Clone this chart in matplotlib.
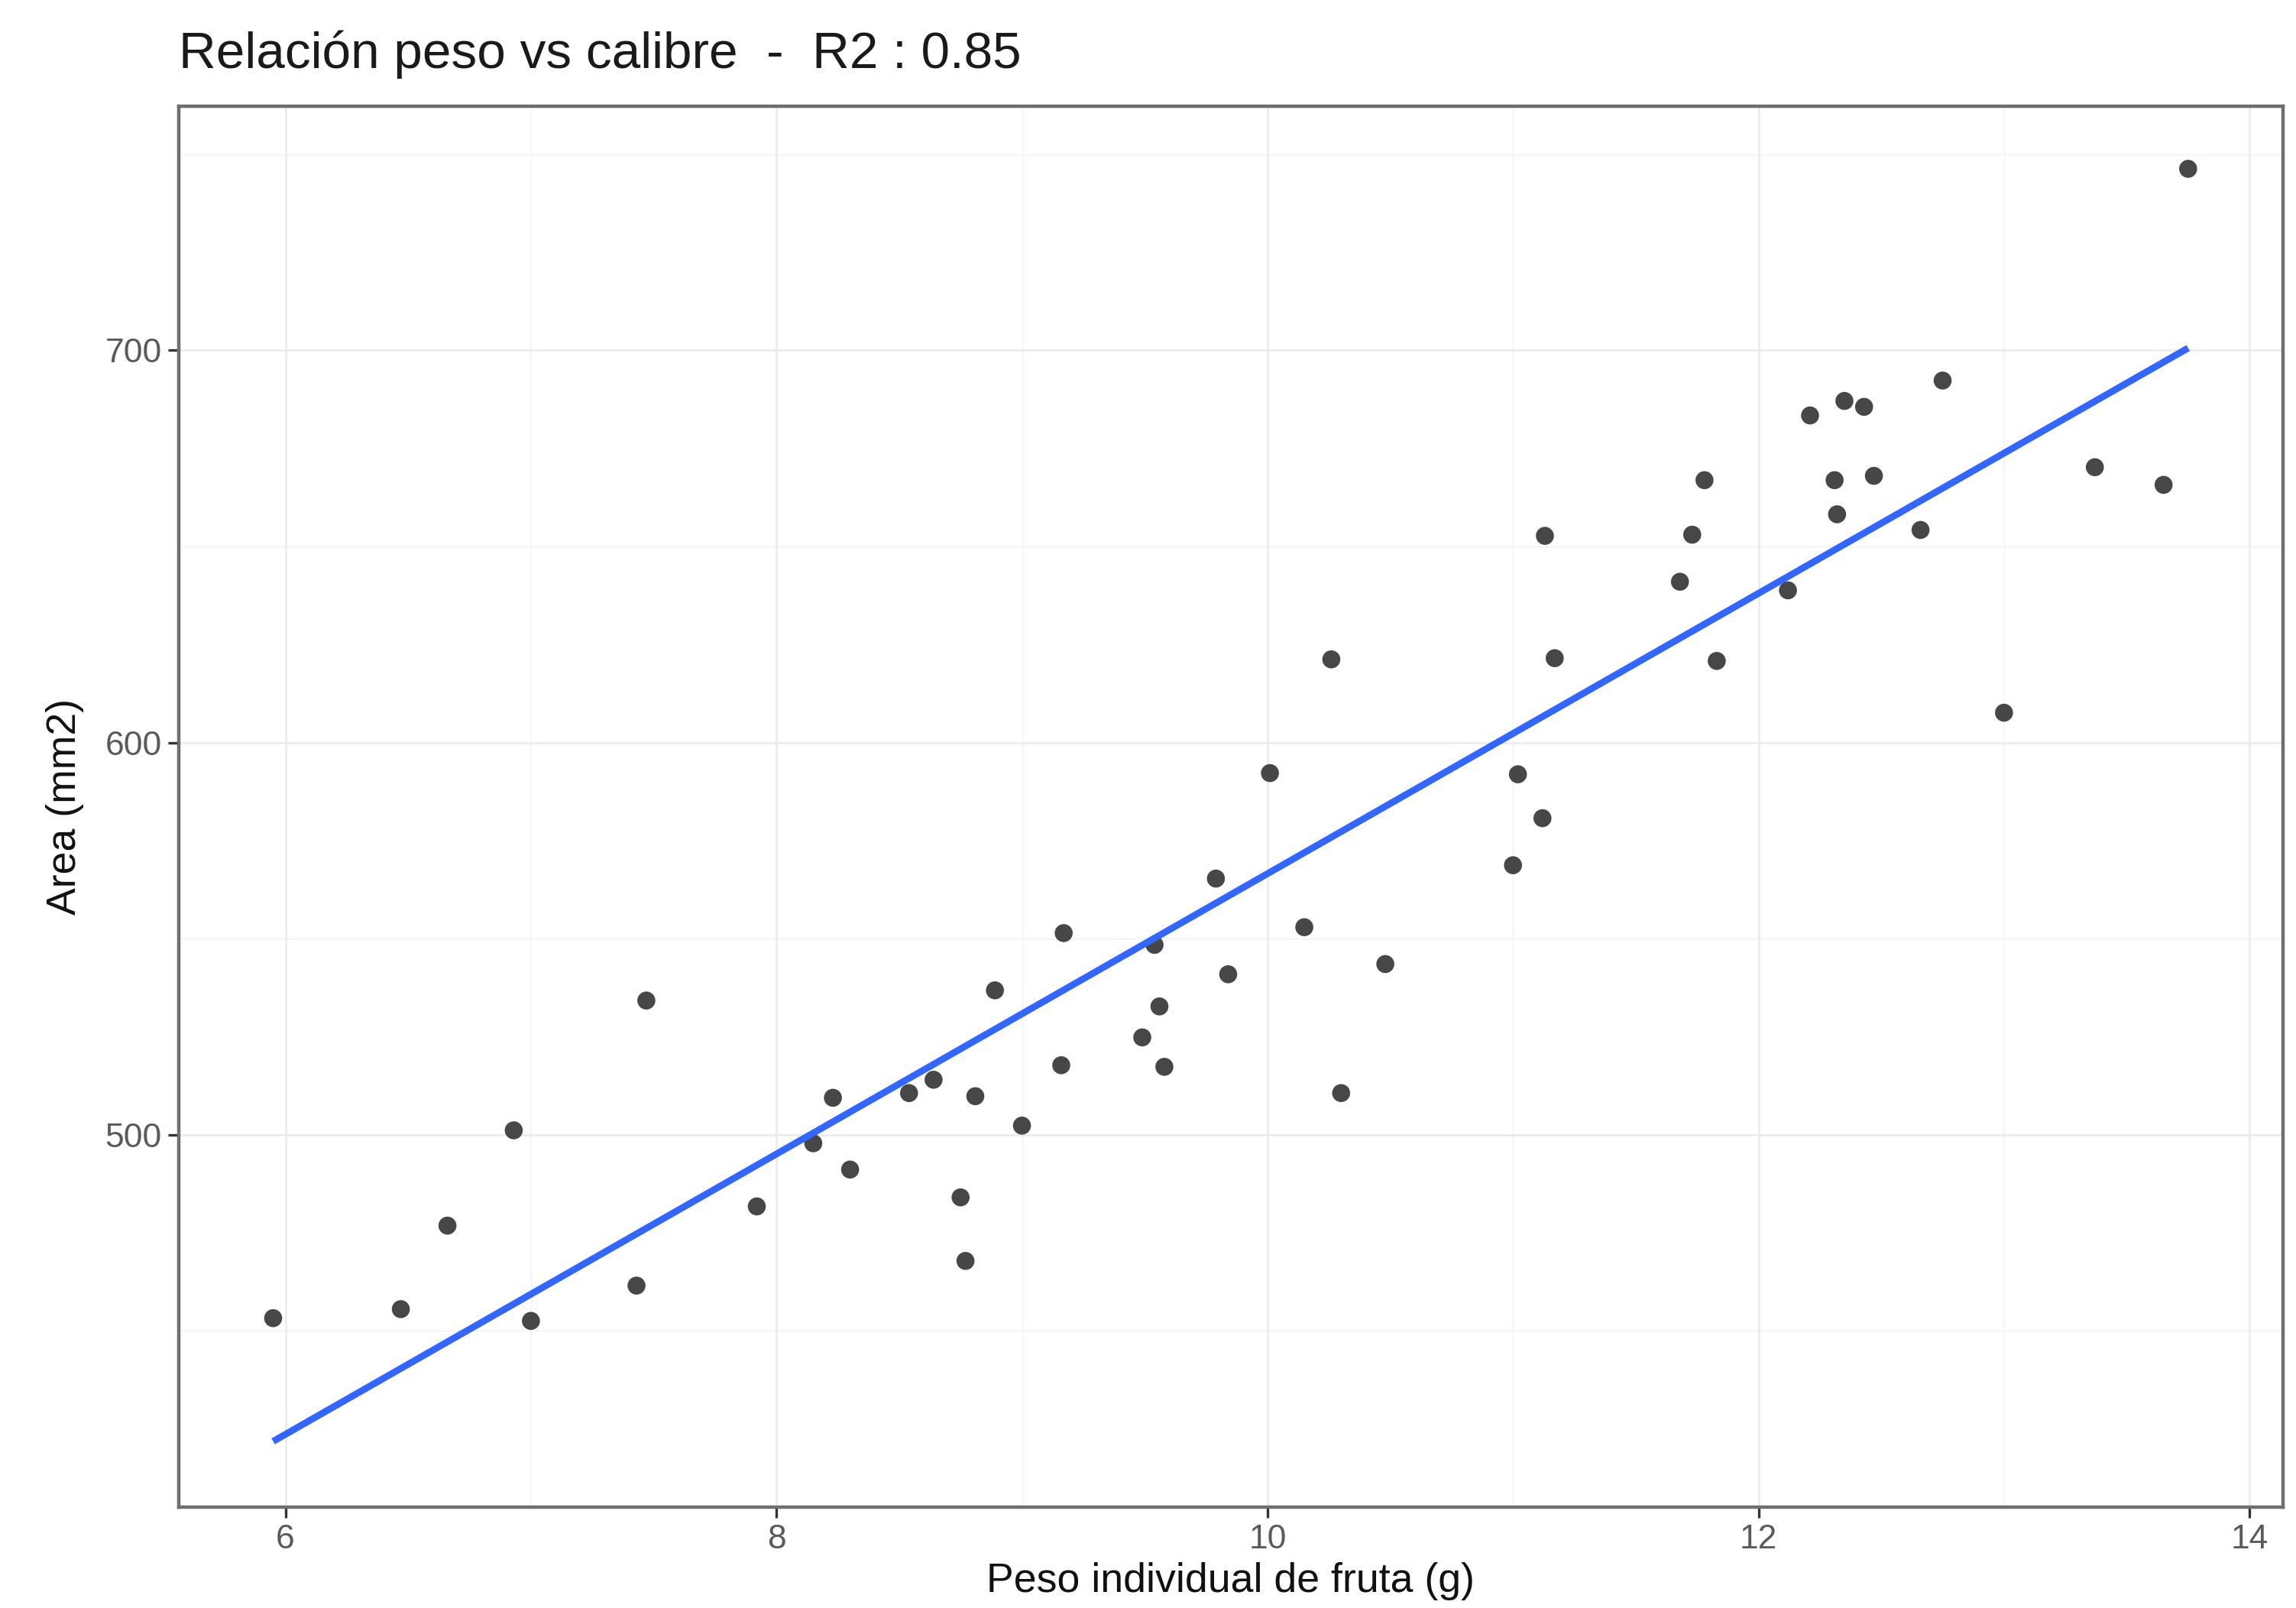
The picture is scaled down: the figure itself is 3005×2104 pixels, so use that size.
import numpy as np
import matplotlib
matplotlib.use('Agg')
import matplotlib.pyplot as plt
from matplotlib.ticker import MultipleLocator

# peso individual de fruta (g) vs area (mm2)
peso = [5.95, 6.47, 6.66, 6.93, 7.00, 7.43, 7.47, 7.92, 8.15, 8.23,
        8.30, 8.54, 8.64, 8.75, 8.77, 8.81, 8.89, 9.00, 9.16, 9.17,
        9.49, 9.54, 9.56, 9.58, 9.79, 9.84, 10.01, 10.15, 10.26, 10.30,
        10.48, 11.00, 11.02, 11.12, 11.13, 11.17, 11.68, 11.73, 11.78, 11.83,
        12.12, 12.21, 12.31, 12.32, 12.35, 12.43, 12.47, 12.66, 12.75, 13.00,
        13.37, 13.65, 13.75]
area = [453.2, 455.5, 476.8, 501.1, 452.5, 461.5, 534.2, 481.7, 497.8, 509.4,
        491.1, 510.6, 514.0, 484.0, 467.8, 509.8, 536.8, 502.3, 517.7, 551.4,
        524.8, 548.4, 532.7, 517.3, 565.3, 540.9, 592.2, 552.9, 621.2, 510.6,
        543.5, 568.7, 591.9, 580.7, 652.7, 621.5, 641.0, 653.0, 666.9, 620.8,
        638.8, 683.4, 666.9, 658.2, 687.1, 685.6, 668.0, 654.2, 692.3, 607.6,
        670.2, 665.7, 746.3]

x_ticks = [6, 8, 10, 12, 14]
y_ticks = [500, 600, 700]

titulo = 'Relación peso vs calibre  -  R2 : 0.85'

plt.rcParams['font.family'] = ['Liberation Sans', 'DejaVu Sans']

fig = plt.figure(figsize=(15.025, 10.52), dpi=200)
ax = fig.add_axes([0.0778, 0.0627, 0.9165, 0.8711])

# recta de regresion (lm)
b1, b0 = np.polyfit(peso, area, 1)
xs = np.array([min(peso), max(peso)])

ax.scatter(peso, area, s=72, color='#474747', edgecolors='none', zorder=3)
ax.plot(xs, b0 + b1 * xs, color='#3366FF', lw=3.2, zorder=4, solid_capstyle='butt')

ax.set_xlim(5.565, 14.136)
ax.set_ylim(405.0, 762.2)
ax.set_xticks(x_ticks)
ax.set_yticks(y_ticks)
ax.xaxis.set_minor_locator(MultipleLocator(1))
ax.yaxis.set_minor_locator(MultipleLocator(50))

ax.grid(True, which='major', color='#ebebeb', lw=0.9)
ax.grid(True, which='minor', color='#f2f2f2', lw=0.5)
ax.set_axisbelow(True)

for s in ax.spines.values():
    s.set_color('#6e6e6e')
    s.set_linewidth(1.6)

ax.tick_params(which='major', length=5, width=1.2, color='#333333',
               labelsize=16, labelcolor='#5a5a5a', pad=3)
ax.tick_params(which='minor', length=0)

ax.set_xlabel('Peso individual de fruta (g)', fontsize=19.3, color='#111111', labelpad=3)
ax.set_ylabel('Area (mm2)', fontsize=19.3, color='#111111', labelpad=10)
ax.set_title(titulo, fontsize=24.3, loc='left', color='#1a1a1a', pad=18)

fig.savefig('out.png', dpi=200, facecolor='white')
